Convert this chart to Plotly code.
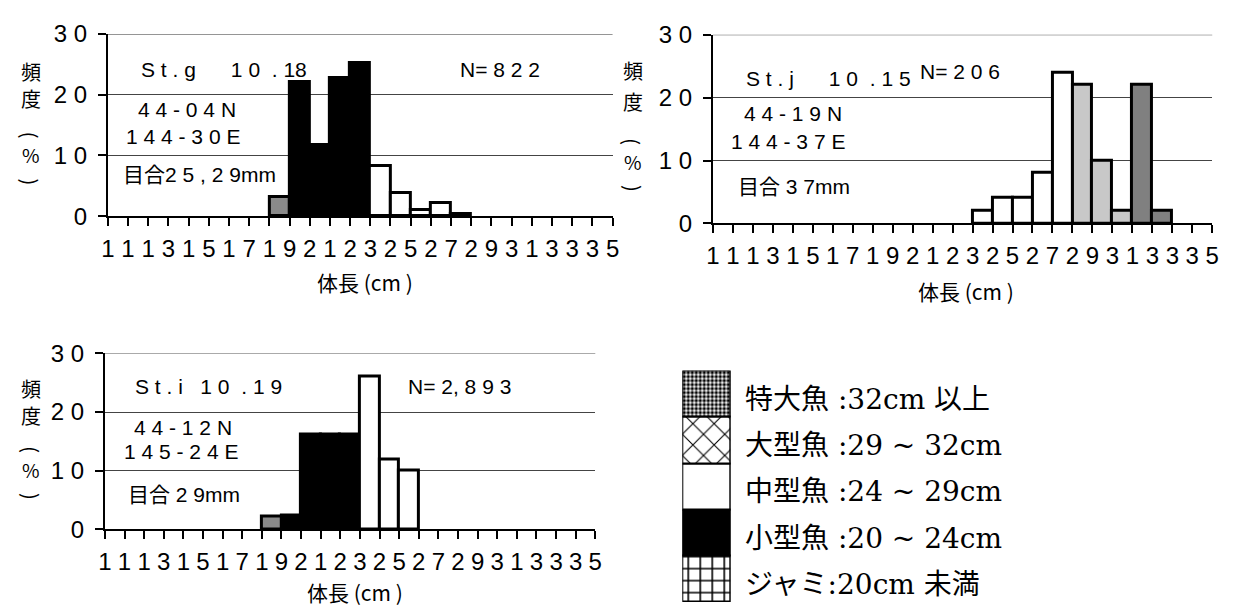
import plotly.graph_objects as go

W, H = 1241, 615

# ---------------- data ----------------
x_categories = list(range(11, 36))          # body length classes (cm)
x_tick_labels = ["11", "13", "15", "17", "19", "21", "23", "25", "27", "29", "31", "33", "35"]
y_tick_vals = [0, 10, 20, 30]
y_tick_text = ["0", "1 0", "2 0", "3 0"]

stg_len = [19, 20, 21, 22, 23, 24, 25, 26, 27, 28]
stg_pct = [3.2, 22.1, 11.7, 22.8, 25.3, 8.3, 3.8, 1.0, 2.1, 0.4]

stj_len = [24, 25, 26, 27, 28, 29, 30, 31, 32, 33]
stj_pct = [2.0, 4.0, 4.0, 8.0, 24.0, 22.0, 10.0, 2.0, 22.0, 2.0]

sti_len = [19, 20, 21, 22, 23, 24, 25, 26]
sti_pct = [2.2, 2.3, 16.2, 16.2, 16.2, 26.0, 12.0, 10.0]

stg_text = ["S t . g      1 0  . 18", "N= 8 2 2", "4 4 - 0 4 N", "1 4 4 - 3 0 E", "目合2 5 , 2 9mm"]
stj_text = ["S t . j      1 0  . 1 5", "N= 2 0 6", "4 4 - 1 9 N", "1 4 4 - 3 7 E", "目合 3 7mm"]
sti_text = ["S t . i   1 0  . 1 9", "N= 2, 8 9 3", "4 4 - 1 2 N", "1 4 5 - 2 4 E", "目合 2 9mm"]

legend_labels = ["ジャミ:20cm 未満", "小型魚 :20 ~ 24cm", "中型魚 :24 ~ 29cm",
                 "大型魚 :29 ~ 32cm", "特大魚 :32cm 以上"]

x_title = "体長 (cm )"

# ---------------- helpers ----------------
NB = "\u00a0"


def nb(s):
    return s.replace(" ", NB)


def px(x):
    return x / W


def py(y):
    return 1 - y / H


def class_color(L):
    if L < 20:
        return "#8a8a8a"
    if L < 24:
        return "black"
    if L < 29:
        return "white"
    if L < 32:
        return "#c8c8c8"
    return "#808080"


boundary_vals = [c - 0.5 for c in x_categories] + [x_categories[-1] + 0.5]
boundary_text = list("".join(x_tick_labels))

SANS = "Liberation Sans, Arial, Noto Sans CJK JP"
CJK = "Noto Sans CJK JP, Liberation Sans"

fig = go.Figure()
annotations = []
shapes = []

charts = [
    dict(L=stg_len, P=stg_pct, T=stg_text, x0=102, x1=612.5, yt=21, yb=211.5,
         tpos=[(135, 58), (457, 58), (131, 100), (119, 128), (116, 168)],
         yx=24, yys=(60, 88, 127, 147, 176), xt=(362, 280)),
    dict(L=stj_len, P=stj_pct, T=stj_text, x0=714, x1=1219, yt=21.7, yb=219,
         tpos=[(746, 67), (922, 60), (744, 104), (731, 133), (738, 180)],
         yx=633, yys=(59, 92, 134, 154, 183), xt=(970, 290)),
    dict(L=sti_len, P=sti_pct, T=sti_text, x0=99, x1=595, yt=355, yb=539,
         tpos=[(128, 390), (405, 390), (127, 432), (117, 458), (121, 503)],
         yx=24, yys=(392, 420, 456, 476, 505), xt=(352, 605)),
]

for i, c in enumerate(charts, start=1):
    xa = "x" if i == 1 else f"x{i}"
    ya = "y" if i == 1 else f"y{i}"
    fig.add_trace(go.Bar(
        x=c["L"], y=c["P"], width=1.0,
        marker=dict(color=[class_color(v) for v in c["L"]],
                    line=dict(color="black", width=3)),
        xaxis=xa, yaxis=ya, showlegend=False,
    ))
    xkey = "xaxis" if i == 1 else f"xaxis{i}"
    ykey = "yaxis" if i == 1 else f"yaxis{i}"
    fig.update_layout({
        xkey: dict(
            domain=[px(c["x0"]), px(c["x1"])], anchor=ya,
            range=[10.5, 35.5], tickmode="array", tickvals=boundary_vals,
            ticktext=boundary_text, ticks="outside", ticklen=8, tickwidth=2,
            tickcolor="black",
            tickfont=dict(family=SANS, size=24, color="black"),
            showline=True, linecolor="black", linewidth=2,
            showgrid=False, zeroline=False, fixedrange=True,
            ticklabelstandoff=2,
        ),
        ykey: dict(
            domain=[py(c["yb"]), py(c["yt"])], anchor=xa,
            range=[0, 30], tickmode="array", tickvals=y_tick_vals,
            ticktext=[nb(t) for t in y_tick_text], ticks="outside", ticklen=8,
            tickwidth=2, tickcolor="black",
            tickfont=dict(family=SANS, size=24, color="black"),
            showline=True, linecolor="black", linewidth=2,
            showgrid=True, gridcolor="#444444", gridwidth=1,
            zeroline=False, fixedrange=True, ticklabelstandoff=6,
        ),
    })
    # top gridline at 30 (plotly drops the boundary gridline)
    shapes.append(dict(type="line", xref=f"{xa} domain", x0=0, x1=1, yref=ya,
                       y0=y_tick_vals[-1], y1=y_tick_vals[-1],
                       line=dict(color="#444444", width=1), layer="below"))
    for txt, (tx, ty) in zip(c["T"], c["tpos"]):
        annotations.append(dict(
            text=nb(txt), x=px(tx), y=py(ty), xref="paper", yref="paper",
            xanchor="left", yanchor="middle", showarrow=False, borderpad=0,
            font=dict(family=SANS, size=21, color="black")))
    ys = c["yys"]
    for ch, yy, ang, sz in [("頻", ys[0], 0, 20), ("度", ys[1], 0, 20), ("(", ys[2], 90, 20),
                            ("%", ys[3], 0, 19), (")", ys[4], 90, 20)]:
        annotations.append(dict(
            text=ch, x=px(c["yx"]), y=py(yy), xref="paper", yref="paper",
            xanchor="center", yanchor="middle", showarrow=False, textangle=ang,
            borderpad=0, font=dict(family=CJK, size=sz, color="black")))
    annotations.append(dict(
        text=nb(x_title), x=px(c["xt"][0]), y=py(c["xt"][1]), xref="paper", yref="paper",
        xanchor="center", yanchor="middle", showarrow=False,
        font=dict(family=CJK, size=21, color="black")))

# ---------------- legend block (patterned boxes) ----------------
leg_shapes = ["+", "", "", "x", "."]
leg_colors = ["white", "black", "white", "white", "white"]
leg_sizes = [12, 8, 8, 15, 4]
leg_solid = [0.25, 0.3, 0.3, 0.14, 0.55]
for k in range(5):
    mk = dict(color=leg_colors[k], line=dict(color="black", width=2))
    if leg_shapes[k]:
        mk["pattern"] = dict(shape=leg_shapes[k], fgcolor="black", bgcolor="white",
                             size=leg_sizes[k], solidity=leg_solid[k], fillmode="replace")
    fig.add_trace(go.Bar(
        x=[0], y=[1], base=[k], width=1.0, marker=mk,
        xaxis="x4", yaxis="y4", showlegend=False,
    ))
fig.update_layout(
    xaxis4=dict(domain=[px(683), px(732)], anchor="y4", range=[-0.5, 0.5], visible=False,
                fixedrange=True),
    yaxis4=dict(domain=[0, py(373)], anchor="x4", range=[0, 5.0], visible=False,
                fixedrange=True),
)
for k, lab in enumerate(legend_labels):
    ycen = 373 + 48.4 * (4 - k) + 30
    annotations.append(dict(
        text=nb(lab), x=px(744), y=py(ycen), xref="paper", yref="paper",
        xanchor="left", yanchor="middle", showarrow=False,
        font=dict(family="DejaVu Serif, Noto Sans CJK JP", size=28, color="black")))

fig.update_layout(
    width=W, height=H, margin=dict(l=0, r=0, t=0, b=0),
    paper_bgcolor="white", plot_bgcolor="white",
    barmode="overlay", bargap=0, showlegend=False,
    annotations=annotations, shapes=shapes,
)

fig.write_html("out.html", config={"displayModeBar": False},
               post_script="document.body.style.margin='0px';document.body.style.overflow='hidden';")
